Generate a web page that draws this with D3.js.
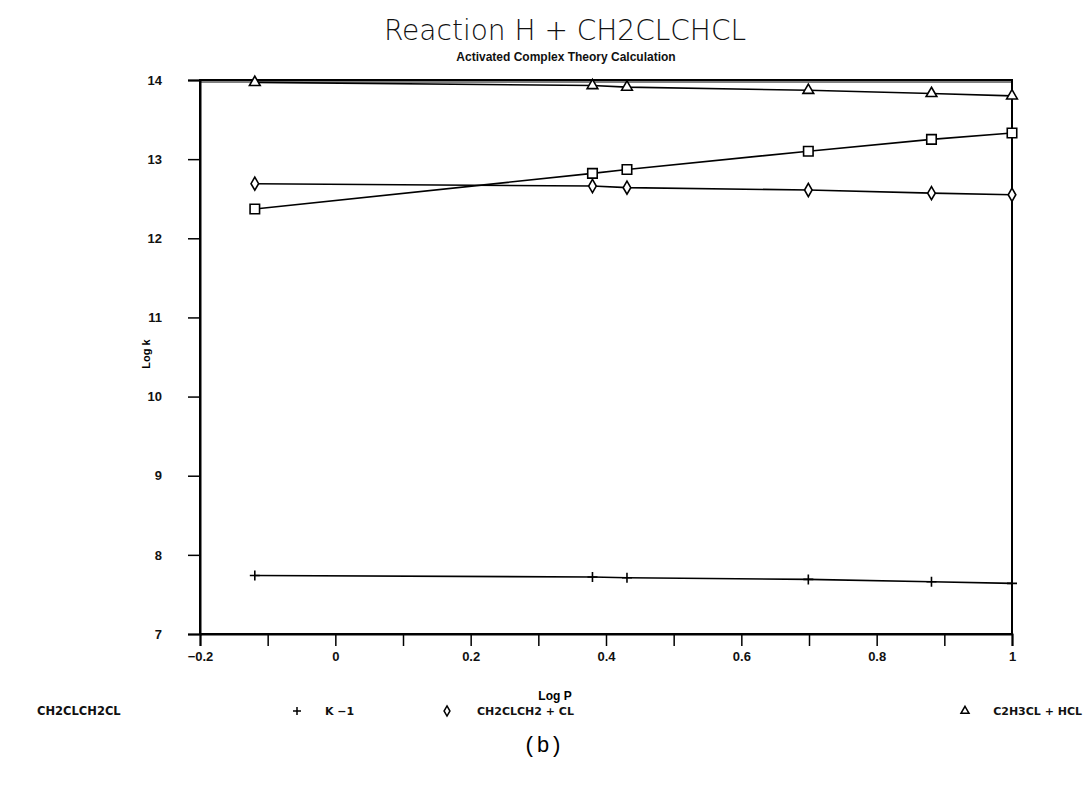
<!DOCTYPE html>
<html><head><meta charset="utf-8">
<script src="https://cdn.jsdelivr.net/npm/d3@7"></script>
<style>body{margin:0;background:#fff;} svg{display:block;}</style>
</head><body>
<script>
const logP = [-0.119, 0.380, 0.431, 0.699, 0.881, 1.0];
const kMinus1 = [7.74, 7.72, 7.71, 7.69, 7.66, 7.64];
const ch2clch2cl = [12.37, 12.82, 12.87, 13.10, 13.25, 13.33];
const ch2clch2Cl = [12.69, 12.66, 12.64, 12.61, 12.57, 12.55];
const c2h3clHcl = [13.97, 13.93, 13.91, 13.87, 13.83, 13.80];
const xTicks = [-0.2, -0.1, 0, 0.1, 0.2, 0.3, 0.4, 0.5, 0.6, 0.7, 0.8, 0.9, 1];
const xTickLabels = {"-0.2": "\u22120.2", "0": "0", "0.2": "0.2", "0.4": "0.4", "0.6": "0.6", "0.8": "0.8", "1": "1"};
const yTicks = [7, 8, 9, 10, 11, 12, 13, 14];
const seriesNames = ["CH2CLCH2CL", "K \u22121", "CH2CLCH2 + CL", "C2H3CL + HCL"];

const W = 1086, H = 788;
const svg = d3.select("body").append("svg").attr("width", W).attr("height", H);
const x = d3.scaleLinear().domain([-0.2, 1]).range([200, 1012]);
const y = d3.scaleLinear().domain([7, 14]).range([634, 80]);
const font = "'Liberation Sans', Arial, sans-serif";
const lfont = "'DejaVu Sans', sans-serif";

// title
svg.append("text").attr("x", 565).attr("y", 40).attr("text-anchor", "middle")
  .attr("font-family", lfont).attr("font-weight", 200).attr("font-size", 28)
  .attr("fill", "#111").text("Reaction H + CH2CLCHCL");
svg.append("text").attr("x", 566).attr("y", 61).attr("text-anchor", "middle")
  .attr("font-family", font).attr("font-weight", "bold").attr("font-size", 12)
  .attr("fill", "#111").text("Activated Complex Theory Calculation");

// frame
svg.append("rect").attr("x", x(-0.2)).attr("y", y(14)).attr("width", x(1) - x(-0.2)).attr("height", y(7) - y(14))
  .attr("fill", "none").attr("stroke", "#000").attr("stroke-width", 2);
svg.append("line").attr("x1", x(-0.2)).attr("x2", x(1)).attr("y1", y(14) + 2).attr("y2", y(14) + 2)
  .attr("stroke", "#000").attr("stroke-width", 1);

// axes
const fmtKey = d => { const v = Math.round(d * 10) / 10; return String(v); };
const xAxis = d3.axisBottom(x).tickValues(xTicks).tickSize(12).tickPadding(6)
  .tickFormat(d => xTickLabels[fmtKey(d)] || "");
const gx = svg.append("g").attr("transform", `translate(0,${y(7)})`).call(xAxis);
gx.select(".domain").attr("stroke-width", 2);
gx.selectAll(".tick line").attr("stroke-width", 1.5);
gx.selectAll("text").attr("font-family", font).attr("font-weight", "bold").attr("font-size", 13).attr("fill", "#111");

const yAxis = d3.axisLeft(y).tickValues(yTicks).tickSize(12).tickPadding(26).tickFormat(d3.format("d"));
const gy = svg.append("g").attr("transform", `translate(${x(-0.2)},0)`).call(yAxis);
gy.select(".domain").attr("stroke-width", 2);
gy.selectAll(".tick line").attr("stroke-width", 1.5);
gy.selectAll("text").attr("font-family", font).attr("font-weight", "bold").attr("font-size", 13).attr("fill", "#111");

svg.append("text").attr("transform", `translate(150,354) rotate(-90)`).attr("text-anchor", "middle")
  .attr("font-family", font).attr("font-weight", "bold").attr("font-size", 11).text("Log k");
svg.append("text").attr("x", 555).attr("y", 700).attr("text-anchor", "middle")
  .attr("font-family", font).attr("font-weight", "bold").attr("font-size", 12).text("Log P");

// lines
const line = d3.line().x(d => x(d[0])).y(d => y(d[1]));
const series = [
  {vals: kMinus1, sym: d3.symbolCross, size: 60, kind: "plus"},
  {vals: ch2clch2cl, sym: d3.symbolSquare, size: 90, kind: "square"},
  {vals: ch2clch2Cl, sym: d3.symbolDiamond, size: 50, kind: "diamond"},
  {vals: c2h3clHcl, sym: d3.symbolTriangle, size: 50, kind: "triangle"}
];
const plusPath = s => `M${-s},0H${s}M0,${-s}V${s}`;
series.forEach(s => {
  const pts = logP.map((p, i) => [p, s.vals[i]]);
  svg.append("path").attr("d", line(pts)).attr("fill", "none").attr("stroke", "#000").attr("stroke-width", 1.6);
  svg.selectAll(null).data(pts).enter().append("path")
    .attr("transform", d => `translate(${x(d[0])},${y(d[1])})`)
    .attr("d", s.kind === "plus" ? plusPath(5) : d3.symbol(s.sym, s.size)())
    .attr("fill", "#fff").attr("stroke", "#000").attr("stroke-width", 1.6);
});

// legend
const ly = 715;
const lt = (tx, txt, anchor, fs) => svg.append("text").attr("x", tx).attr("y", ly).attr("font-family", lfont)
  .attr("text-anchor", anchor || "start")
  .attr("font-weight", "bold").attr("font-size", fs || 11).attr("fill", "#111").text(txt);
lt(37, seriesNames[0], "start", 11.5);
svg.append("path").attr("transform", `translate(297,${ly - 4})`).attr("d", plusPath(4)).attr("stroke", "#000").attr("stroke-width", 1.5);
lt(325, seriesNames[1]);
svg.append("path").attr("transform", `translate(447,${ly - 4})`).attr("d", d3.symbol(d3.symbolDiamond, 30)()).attr("fill", "#fff").attr("stroke", "#000").attr("stroke-width", 1.5);
lt(477, seriesNames[2]);
svg.append("path").attr("transform", `translate(965,${ly - 4})`).attr("d", d3.symbol(d3.symbolTriangle, 28)()).attr("fill", "#fff").attr("stroke", "#000").attr("stroke-width", 1.5);
lt(1082, seriesNames[3], "end");

svg.append("text").attr("x", 543).attr("y", 752).attr("text-anchor", "middle")
  .attr("font-family", "'Liberation Mono', monospace").attr("font-size", 22).text("(b)");
</script>
</body></html>
